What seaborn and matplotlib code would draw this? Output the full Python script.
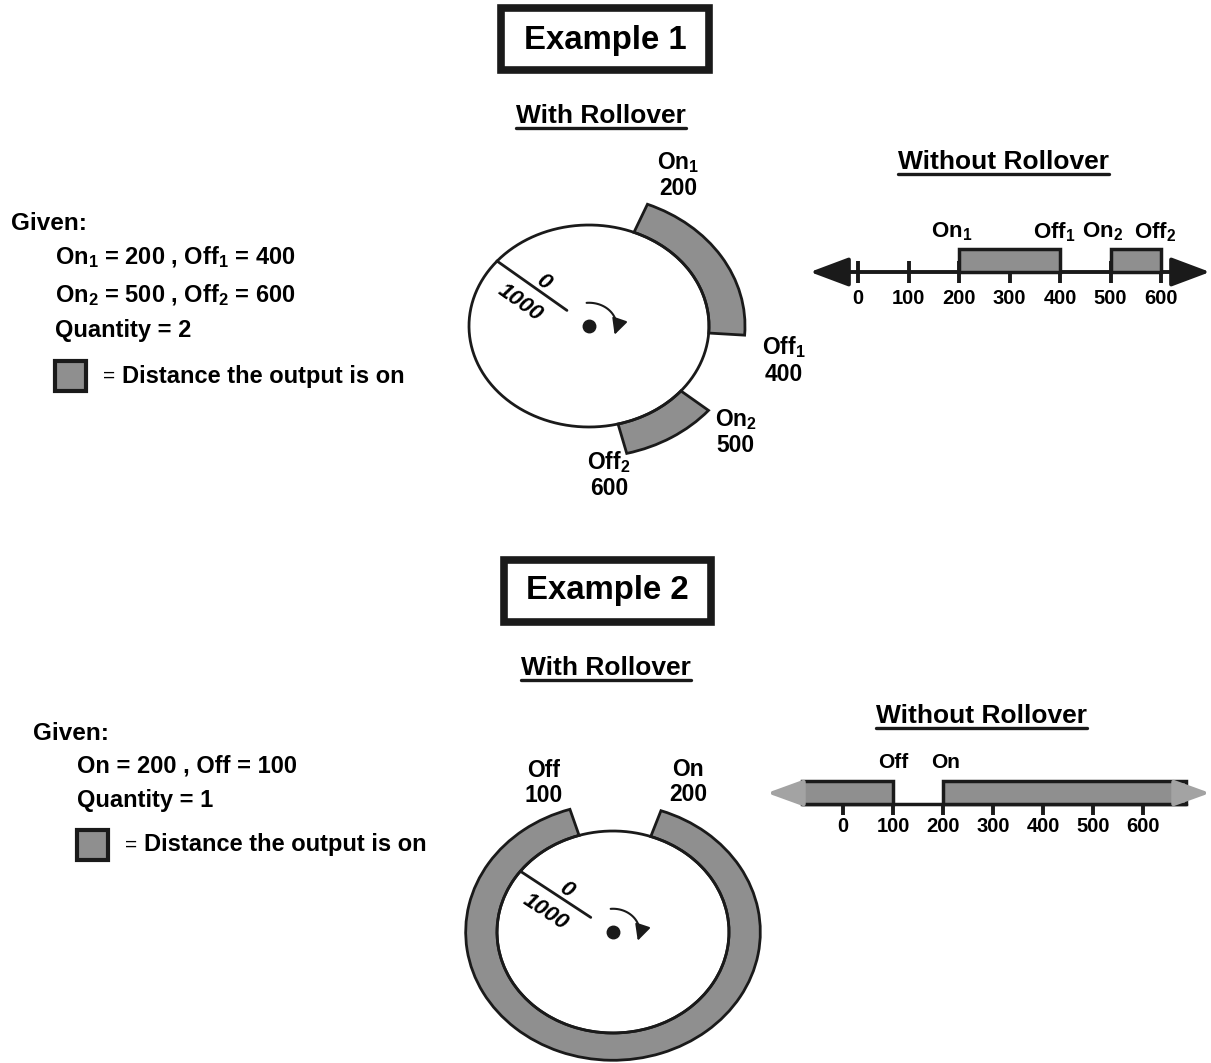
import numpy as np
import matplotlib
matplotlib.use("Agg")
import matplotlib.pyplot as plt
from matplotlib.patches import Rectangle
import seaborn as sns

# Example 1: two outputs
ex1_on = [200, 500]
ex1_off = [400, 600]
ex1_qty = 2
# Example 2: one output that rolls over past 1000 -> 0
ex2_on = [200]
ex2_off = [100]
ex2_qty = 1

dial_units = 1000
tick_values = [0, 100, 200, 300, 400, 500, 600]

GRAY = '#8f8f8f'
LIGHT = '#a3a3a3'
W, H = 1211, 1063

sns.set_theme(style="white")
plt.rcParams['font.family'] = ['Liberation Sans', 'DejaVu Sans']
plt.rcParams['font.weight'] = 'bold'
plt.rcParams['text.color'] = 'black'
plt.rcParams['mathtext.fontset'] = 'custom'
plt.rcParams['mathtext.bf'] = 'Liberation Sans:bold'
plt.rcParams['mathtext.rm'] = 'Liberation Sans:bold'
plt.rcParams['mathtext.default'] = 'bf'

fig = plt.figure(figsize=(W / 100, H / 100), dpi=100)
fig.patch.set_facecolor('white')

# page axes in pixel units, used for the free text
page = fig.add_axes([0, 0, 1, 1])
page.set_xlim(0, W)
page.set_ylim(H, 0)
page.axis('off')


def px_axes(x0, y0, x1, y1, **kw):
    return fig.add_axes([x0 / W, 1 - y1 / H, (x1 - x0) / W, (y1 - y0) / H], **kw)


def underlined(x, y, s, size):
    t = page.text(x, y, s, fontsize=size, ha='center', va='center')
    fig.canvas.draw()
    bb = t.get_window_extent().transformed(page.transData.inverted())
    yl = y + 0.47 * size * 1.39
    page.plot([bb.x0, bb.x1], [yl, yl], color='k', lw=2.4)


def lab(on_or_off, i, qty):
    return f"{on_or_off}$_{i + 1}$" if qty > 1 else on_or_off


def given_block(x, y, ons, offs, qty):
    page.text(x - 44, y - 33, 'Given:', fontsize=17.5, va='center')
    for i, (a, b) in enumerate(zip(ons, offs)):
        if qty > 1:
            s = f"On$_{i + 1}$ = {a} , Off$_{i + 1}$ = {b}"
        else:
            s = f"On = {a} , Off = {b}"
        page.text(x, y + 38 * i, s, fontsize=17, va='center')
    yq = y + 38 * len(ons) - (2 if qty > 1 else 4)
    page.text(x, yq, f"Quantity = {qty}", fontsize=17, va='center')
    ys = yq + 45
    page.add_patch(Rectangle((x, ys - 15), 31, 30, fc=GRAY, ec='k', lw=3))
    page.text(x + 48, ys, '=', fontsize=15, fontweight='normal', va='center')
    page.text(x + 67, ys, 'Distance the output is on', fontsize=17, va='center')


def dial(cx, cy, a, b, ring, ons, offs, qty, zero_deg, on_pos, off_pos):
    ax = px_axes(cx - a * ring, cy - b * ring, cx + a * ring, cy + b * ring, projection='polar')
    ax.set_aspect('auto')
    ax.set_theta_direction(-1)
    ax.set_theta_offset(np.deg2rad(zero_deg))
    ax.set_ylim(0, ring)
    ax.axis('off')
    to_th = lambda v: 2 * np.pi * v / dial_units
    for i, (on, off) in enumerate(zip(ons, offs)):
        span = (off - on) % dial_units
        ax.bar(to_th(on), ring - 1, width=to_th(span), bottom=1, align='edge',
               color=GRAY, edgecolor='k', lw=2, clip_on=False)
        for name, v, (nudge, r) in [('On', on, on_pos[i]), ('Off', off, off_pos[i])]:
            ax.text(to_th(v) + np.deg2rad(nudge), r, lab(name, i, qty) + f"\n{v}",
                    fontsize=16.5, ha='center', va='center', linespacing=1.13)
    t = np.linspace(0, 2 * np.pi, 400)
    ax.plot(t, np.ones_like(t), color='k', lw=2)
    # zero / rollover mark
    ax.plot([to_th(0), to_th(0)], [0.24, 1], color='k', lw=2)
    al = np.deg2rad(zero_deg)
    rot = np.degrees(np.arctan2(b * np.sin(al), a * np.cos(al))) - 180
    ax.text(to_th(0) + np.deg2rad(9), 0.58, '0', fontsize=16, style='italic',
            rotation=rot, ha='center', va='center')
    ax.text(to_th(0) - np.deg2rad(18), 0.62, str(dial_units), fontsize=16,
            style='italic', rotation=rot, ha='center', va='center')
    ax.plot(0, 0, 'o', color='k', ms=9)
    # rotation direction
    arc = np.deg2rad(np.linspace(zero_deg - 95, zero_deg + 22, 60))
    ax.plot(arc[:-6], np.full(54, 0.23), color='k', lw=1.5)
    ax.annotate('', xy=(arc[-1], 0.23), xytext=(arc[-7], 0.23),
                arrowprops=dict(arrowstyle='-|>', color='k', mutation_scale=24,
                                shrinkA=0, shrinkB=0, lw=1.5))
    return ax


def strip(x0, x1, y0, y1, zero_px, px_per_unit, line_px):
    ax = px_axes(x0, y0, x1, y1)
    ax.set_xlim((x0 - zero_px) / px_per_unit, (x1 - zero_px) / px_per_unit)
    ax.set_ylim(-(y1 - line_px), line_px - y0)
    ax.axis('off')
    return ax


# ---------------- Example 1 ----------------
page.add_patch(Rectangle((501, 8), 208, 62, fill=False, ec='k', lw=5.5))
page.text(605, 40, 'Example 1', fontsize=23.7, ha='center', va='center')
underlined(601, 116, 'With Rollover', 19)
underlined(1003, 162, 'Without Rollover', 19)
given_block(55, 257, ex1_on, ex1_off, ex1_qty)
dial(589, 326, 120, 101, 1.3, ex1_on, ex1_off, ex1_qty, 140,
     on_pos=[(4.6, 1.67), (0.6, 1.61)], off_pos=[(7.7, 1.66), (7.5, 1.48)])

nl1 = strip(795, 1211, 215, 312, 858, 0.505, 272)
nl1.annotate('', xy=(697, 0), xytext=(-95, 0),
             arrowprops=dict(arrowstyle='<|-|>,head_length=1.2,head_width=0.45',
                             color='k', lw=2.8, mutation_scale=20, shrinkA=0, shrinkB=0))
nl1.vlines(tick_values, -11, 11, color='k', lw=2.8)
for i, (on, off) in enumerate(zip(ex1_on, ex1_off)):
    nl1.bar(on, 23, width=off - on, bottom=0, align='edge', color=GRAY,
            edgecolor='k', lw=2.5, zorder=3)
    nl1.text(on - 15, 40, lab('On', i, ex1_qty), fontsize=16, ha='center', va='center')
    nl1.text(off - 12, 40, lab('Off', i, ex1_qty), fontsize=16, ha='center', va='center')
for v in tick_values:
    nl1.text(v, -27, str(v), fontsize=14.5, ha='center', va='center')

# ---------------- Example 2 ----------------
page.add_patch(Rectangle((504, 560), 207, 62, fill=False, ec='k', lw=5.5))
page.text(607, 591, 'Example 2', fontsize=23.7, ha='center', va='center')
underlined(606, 668, 'With Rollover', 19)
underlined(981, 716, 'Without Rollover', 19)
given_block(77, 766, ex2_on, ex2_off, ex2_qty)
dial(613, 932, 116, 101, 1.27, ex2_on, ex2_off, ex2_qty, 143,
     on_pos=[(4.6, 1.62)], off_pos=[(-5, 1.59)])

nl2 = strip(760, 1211, 740, 840, 843, 0.5, 804)
lo, hi = -82, 686
nl2.plot([lo, hi], [0, 0], color='k', lw=2.5)
for on, off in zip(ex2_on, ex2_off):
    nl2.bar(lo, 23, width=off - lo, bottom=0, align='edge', color=GRAY,
            edgecolor='k', lw=2.5, zorder=3)
    nl2.bar(on, 23, width=hi - on, bottom=0, align='edge', color=GRAY,
            edgecolor='k', lw=2.5, zorder=3)
    nl2.text(off, 41, 'Off', fontsize=15, ha='center', va='center')
    nl2.text(on + 6, 41, 'On', fontsize=15, ha='center', va='center')
nl2.vlines(tick_values, -11, 0, color='k', lw=2.8)
for v in tick_values:
    nl2.text(v, -22, str(v), fontsize=14.5, ha='center', va='center')
for start, tip in [(lo, -152), (hi, 734)]:
    nl2.annotate('', xy=(tip, 11), xytext=(start, 11),
                 arrowprops=dict(arrowstyle='-|>,head_length=1.1,head_width=0.4',
                                 color=LIGHT, lw=3, mutation_scale=20, shrinkA=0, shrinkB=0))

fig.savefig('out.png', dpi=100, facecolor='white')
